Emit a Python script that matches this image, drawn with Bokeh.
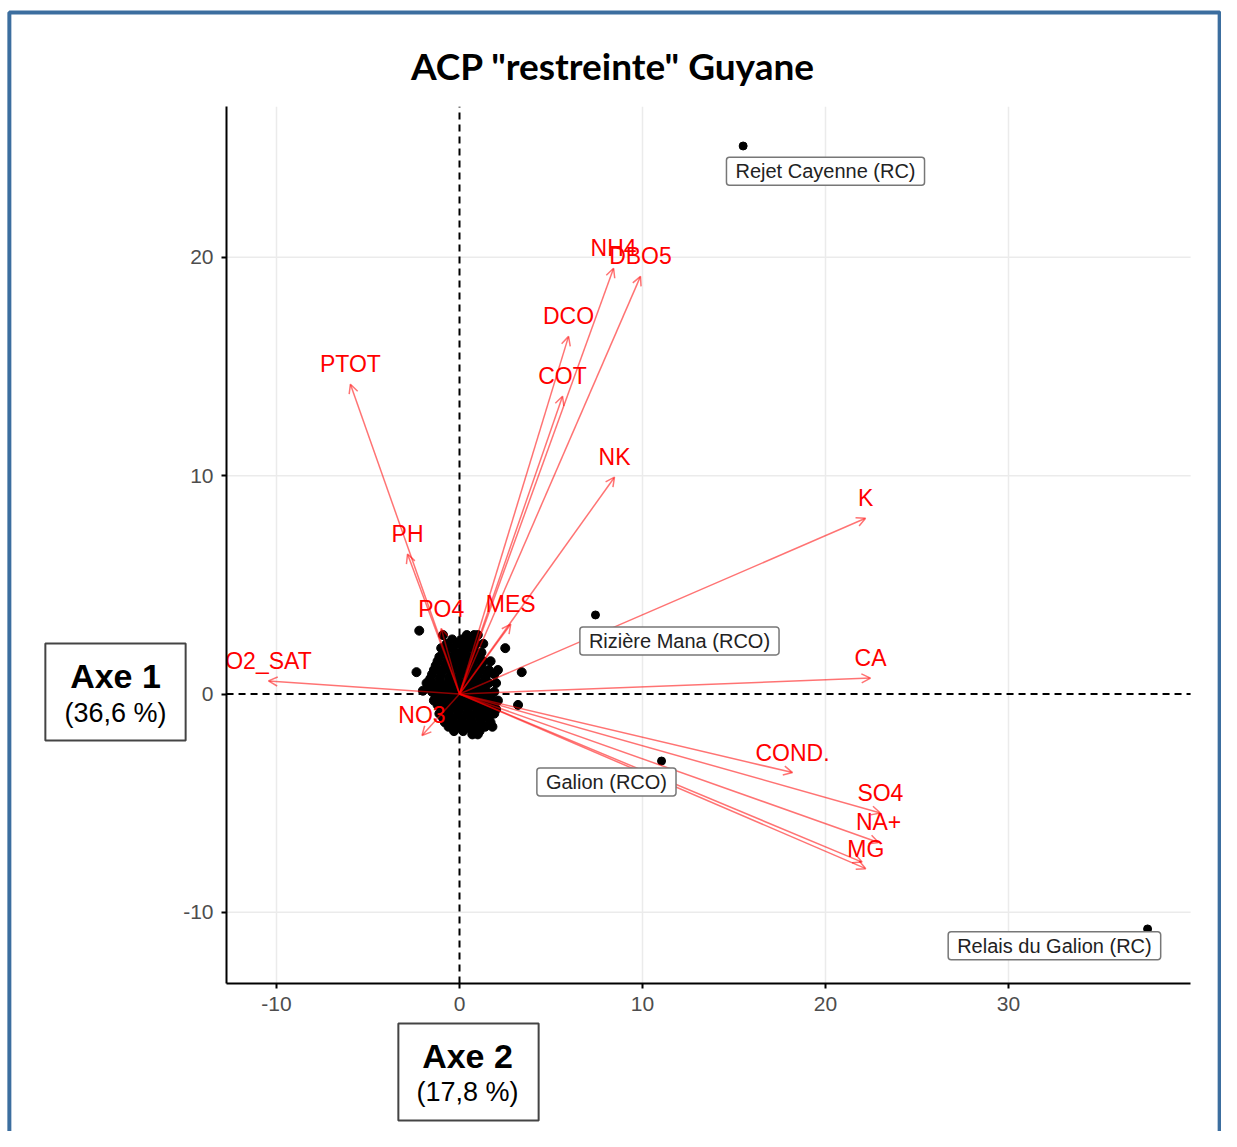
from bokeh.plotting import figure
from bokeh.models import Range1d, Arrow, OpenHead, ColumnDataSource, Label, FixedTicker, LinearAxis
from bokeh.core.properties import value
from bokeh.embed import file_html
from bokeh.resources import INLINE

# ---------------- data ----------------
title_text = 'ACP "restreinte"  Guyane'
axis1_name, axis1_pct = "Axe 1", "(36,6 %)"
axis2_name, axis2_pct = "Axe 2", "(17,8 %)"

x_ticks = [-10, 0, 10, 20, 30]
y_ticks = [-10, 0, 10, 20]

var_names = ["PTOT", "PH", "PO4", "MES", "NO3", "O2_SAT", "NH4", "DBO5", "DCO", "COT",
             "NK", "K", "CA", "COND.", "SO4", "NA+", "MG", ""]
var_x = [-5.96, -2.84, -1.0, 2.8, -2.05, -10.44, 8.42, 9.89, 5.96, 5.63,
         8.47, 22.19, 22.46, 18.2, 23.0, 22.9, 22.2, 22.0]
var_y = [14.19, 6.41, 3.0, 3.2, -1.9, 0.6, 19.5, 19.13, 16.38, 13.64,
         9.93, 8.05, 0.73, -3.6, -5.45, -6.8, -8.0, -7.7]

site_names = ["Rejet Cayenne (RC)", "Rizière Mana (RCO)", "Galion (RCO)", "Relais du Galion (RC)"]
site_x = [15.5, 7.43, 11.04, 37.6]
site_y = [25.1, 3.62, -3.07, -10.76]
site_label_x = [20.0, 12.02, 8.03, 32.51]
site_label_y = [23.94, 2.43, -4.03, -11.53]

# individuals crowded around the origin (rows of equal ordinate)
cluster_rows = {
    2.9: [-2.2],
    2.7: [-0.9, 0.4, 0.8, 1.0],
    2.5: [-0.4, 0.1, 0.6],
    2.3: [-0.7, -0.1, 0.4, 0.9, 1.3],
    2.1: [-1.0, -0.4, 0.2, 0.7, 2.5],
    1.9: [-0.8, -0.2, 0.3, 0.9, 1.2],
    1.7: [-1.1, -0.5, 0.0, 0.6, 1.1],
    1.5: [-1.2, -0.7, -0.2, 0.3, 0.8, 1.3, 1.7],
    1.3: [-1.3, -0.8, -0.3, 0.2, 0.7, 1.2],
    1.1: [-1.4, -0.9, -0.4, 0.1, 0.6, 1.1, 1.6, 2.1],
    1.0: [-2.35, 3.4],
    0.9: [-1.5, -1.0, -0.5, 0.0, 0.5, 1.0, 1.5, 1.9],
    0.7: [-1.6, -1.1, -0.6, -0.1, 0.4, 0.9, 1.4],
    0.5: [-1.8, -1.5, -1.0, -0.5, 0.0, 0.5, 1.0, 1.6, 2.0],
    0.3: [-1.7, -1.2, -0.7, -0.2, 0.3, 0.8, 1.3],
    0.15: [-2.0],
    0.1: [-1.5, -1.0, -0.5, 0.0, 0.5, 1.0, 1.5, 1.9],
    -0.1: [-1.3, -0.8, -0.3, 0.2, 0.7, 1.2, 1.7],
    -0.3: [-1.4, -0.9, -0.4, 0.1, 0.6, 1.1, 1.6, 2.1],
    -0.5: [-1.2, -0.7, -0.2, 0.3, 0.8, 1.3, 1.8, 3.2],
    -0.7: [-1.0, -0.5, 0.0, 0.5, 1.0, 1.5, 2.0],
    -0.9: [-1.1, -0.6, -0.1, 0.4, 0.9, 1.4, 1.9],
    -1.1: [-0.9, -0.4, 0.1, 0.6, 1.1, 1.6],
    -1.3: [-0.8, -0.3, 0.2, 0.7, 1.2, 1.7],
    -1.5: [-0.6, -0.1, 0.4, 0.9, 1.4, 1.8],
    -1.7: [-0.3, 0.2, 0.7, 1.1],
    -1.85: [0.7, 1.0],
}
cluster_x = [x for yv, xs in cluster_rows.items() for x in xs]
cluster_y = [yv for yv, xs in cluster_rows.items() for x in xs]

# ---------------- layout ----------------
W, H = 1221, 1131
X0_PX, X_SCALE = 459.0, 18.3      # canvas px of x=0, px per unit
Y0_PX, Y_SCALE = 693.5, 21.833    # canvas px of y=0, px per unit
panel_x = (-12.73, 39.95)         # extent of the plotting panel (data units)
panel_y = (-13.26, 26.9)

p = figure(width=W, height=H, title=None,
           x_range=Range1d(-X0_PX / X_SCALE, (W - X0_PX) / X_SCALE),
           y_range=Range1d((Y0_PX - H) / Y_SCALE, Y0_PX / Y_SCALE),
           x_axis_location=None, y_axis_location=None,
           output_backend="svg", toolbar_location=None,
           min_border_left=0, min_border_right=0, min_border_top=0, min_border_bottom=0)
p.outline_line_color = None
p.background_fill_color = "white"
p.border_fill_color = "white"
p.xgrid.visible = False
p.ygrid.visible = False

xaxis = LinearAxis(fixed_location=panel_y[0], bounds=panel_x)
yaxis = LinearAxis(fixed_location=panel_x[0], bounds=panel_y)
for ax, ticks in ((xaxis, x_ticks), (yaxis, y_ticks)):
    ax.ticker = FixedTicker(ticks=ticks)
    ax.major_label_overrides = {t: str(t) for t in ticks}
    ax.axis_line_color = "black"
    ax.axis_line_width = 2
    ax.major_tick_line_color = "black"
    ax.major_tick_line_width = 2
    ax.major_tick_out = 5
    ax.major_tick_in = 0
    ax.minor_tick_line_color = None
    ax.major_label_text_font = "Liberation Sans"
    ax.major_label_text_font_size = "21px"
    ax.major_label_text_color = "#4d4d4d"
    ax.major_label_standoff = 8
p.add_layout(xaxis, "below")
p.add_layout(yaxis, "left")

# grid lines limited to the plotting panel
gx = [t for t in x_ticks if t != 0]
gy = [t for t in y_ticks if t != 0]
p.segment(x0=gx, y0=[panel_y[0]] * len(gx), x1=gx, y1=[panel_y[1]] * len(gx),
          line_color="#ebebeb", line_width=1.5, level="underlay")
p.segment(x0=[panel_x[0]] * len(gy), y0=gy, x1=[panel_x[1]] * len(gy), y1=gy,
          line_color="#ebebeb", line_width=1.5, level="underlay")

# dashed zero lines
p.segment(x0=[0, panel_x[0]], y0=[panel_y[0], 0], x1=[0, panel_x[1]], y1=[panel_y[1], 0],
          line_color="black", line_width=2, line_dash="7 5")

# individuals
p.scatter(cluster_x, cluster_y, size=9, color="black")
p.scatter(site_x, site_y, size=8, color="black")

# variable arrows
src = ColumnDataSource(dict(x0=[0] * len(var_x), y0=[0] * len(var_y), x1=var_x, y1=var_y, name=var_names))
p.add_layout(Arrow(x_start="x0", y_start="y0", x_end="x1", y_end="y1", source=src,
                   line_color="red", line_alpha=0.55, line_width=1.5,
                   end=OpenHead(size=9, line_color="red", line_alpha=0.55, line_width=1.5)))
p.text(x="x1", y="y1", text="name", source=src, text_color="red", text_font=value("Liberation Sans"),
       text_font_size="23px", text_align="center", text_baseline="middle", y_offset=-20)

# site labels
for nm, lx, ly in zip(site_names, site_label_x, site_label_y):
    p.add_layout(Label(x=lx, y=ly, text=nm, text_font="Liberation Sans", text_font_size="20px",
                       text_color="#222222", text_align="center", text_baseline="middle",
                       background_fill_color="white", border_line_color="#777777",
                       border_line_width=1.5, border_radius=3,
                       padding=dict(left=9, right=9, top=3, bottom=3)))


def sy(py):
    return H - py


# title
p.add_layout(Label(x=617, y=sy(65), x_units="screen", y_units="screen", text=title_text,
                   text_font="Lato", text_font_style="bold", text_font_size="37px",
                   text_color="black", text_align="center", text_baseline="middle"))


def frame_box(left, right, top, bottom, color, width, fill):
    hw = int(round((right - left) / 2))
    hh = int(round((bottom - top) / 2))
    return Label(x=(left + right) / 2, y=sy((top + bottom) / 2), x_units="screen", y_units="screen",
                 text=" ", text_font_size="1px", text_align="center", text_baseline="middle",
                 background_fill_color=fill, border_line_color=color, border_line_width=width,
                 padding=dict(left=hw, right=hw, top=hh, bottom=hh))


# axis name boxes
p.add_layout(frame_box(45, 185, 643, 740, "#444444", 2, "white"))
p.add_layout(frame_box(398, 538, 1024, 1119, "#444444", 2, "white"))
for txt, cx, cy, sz, st in ((axis1_name, 115, 675, "34px", "bold"), (axis1_pct, 115, 712, "27px", "normal"),
                            (axis2_name, 467, 1055, "34px", "bold"), (axis2_pct, 467, 1091, "27px", "normal")):
    p.add_layout(Label(x=cx, y=sy(cy), x_units="screen", y_units="screen", text=txt,
                       text_font="Liberation Sans", text_font_style=st, text_font_size=sz,
                       text_color="black", text_align="center", text_baseline="middle"))

# outer blue frame
p.add_layout(frame_box(9, W - 2, 13, 1300, "#3c6e9f", 4, None))

open("out.html", "w").write(file_html(p, INLINE))
